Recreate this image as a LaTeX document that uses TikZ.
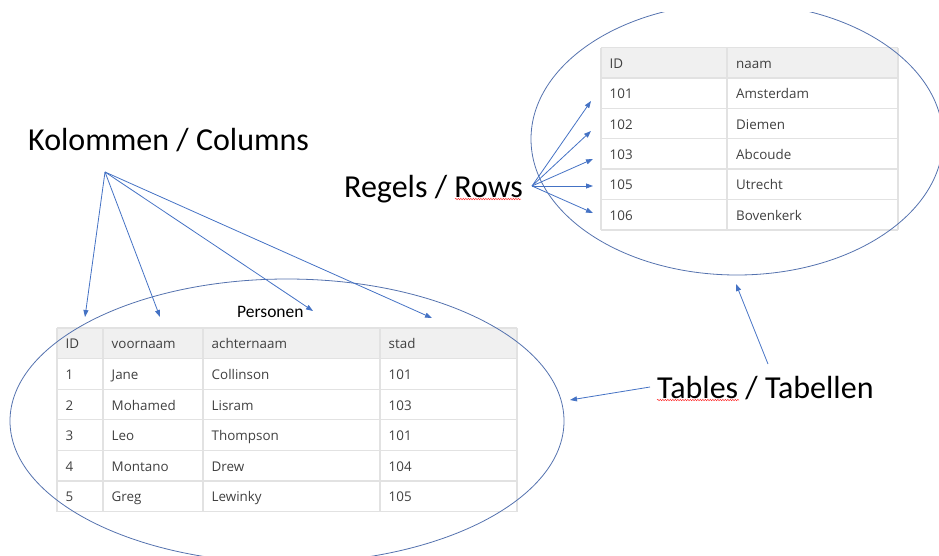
\documentclass[tikz,border=0pt]{standalone}
\usepackage{fontspec}
\setmainfont{Carlito}
\newfontfamily\tablefont{Open Sans}
\usetikzlibrary{arrows.meta, decorations.pathmorphing}
\definecolor{myblue}{RGB}{68,114,196}
\definecolor{ringblue}{RGB}{84,114,174}
\definecolor{gridgray}{RGB}{226,226,226}
\definecolor{hdrgray}{RGB}{240,240,240}
\definecolor{celltext}{RGB}{64,64,64}
\tikzset{
  biglabel/.style={font=\fontsize{32}{38}\selectfont, text=black, inner sep=0pt, anchor=base west},
  caption/.style={font=\fontsize{17.5}{21}\selectfont, text=black, inner sep=0pt, anchor=base west},
  cell/.style={font=\tablefont\fontsize{13.4}{16}\selectfont, text=celltext, inner sep=0pt, anchor=base west},
  gridline/.style={draw=gridgray, line width=1.3pt},
  ring/.style={draw=ringblue, line width=0.8pt},
  arrow/.style={-{Triangle[length=7pt,width=5pt]}, myblue, line width=0.8pt},
  squiggle/.style={red!80, line width=0.5pt, decorate,
    decoration={snake, amplitude=0.7pt, segment length=2.5pt}}
}

\begin{document}
\begin{tikzpicture}[x=1pt, y=-1pt]
  \useasboundingbox (0,0) rectangle (939,555);

  % Personen table
  \fill[hdrgray] (57,328) rectangle (517,358.6);
  \foreach \y in {328,358.6,389.2,419.8,450.4,481,511.6}
    \draw[gridline] (57,\y) -- (517,\y);
  \foreach \x in {57,103,203,380,517}
    \draw[gridline] (\x,328) -- (\x,511.6);
  \foreach \id/\voor/\achter/\stad [count=\r] in {ID/voornaam/achternaam/stad,
      1/Jane/Collinson/101, 2/Mohamed/Lisram/103, 3/Leo/Thompson/101,
      4/Montano/Drew/104, 5/Greg/Lewinky/105} {
    \pgfmathsetmacro\yb{328+(\r-1)*30.6+20.8}
    \node[cell] (p-\r-1) at (65.5,\yb) {\id};
    \node[cell] (p-\r-2) at (111.5,\yb) {\voor};
    \node[cell] (p-\r-3) at (211.5,\yb) {\achter};
    \node[cell] (p-\r-4) at (388.5,\yb) {\stad};
  }
  \node[caption] (personen) at (237,317) {Personen};

  % Steden table
  \fill[hdrgray] (601,47.5) rectangle (898,77.9);
  \foreach \y in {47.5,77.9,108.3,138.7,169.1,199.5,229.9}
    \draw[gridline] (601,\y) -- (898,\y);
  \foreach \x in {601,727,898}
    \draw[gridline] (\x,47.5) -- (\x,229.9);
  \foreach \id/\naam [count=\r] in {ID/naam, 101/Amsterdam, 102/Diemen,
      103/Abcoude, 105/Utrecht, 106/Bovenkerk} {
    \pgfmathsetmacro\yb{47.5+(\r-1)*30.4+20.7}
    \node[cell] (s-\r-1) at (609.5,\yb) {\id};
    \node[cell] (s-\r-2) at (736,\yb) {\naam};
  }

  % Ellipses round the tables
  \begin{scope}
    \clip (0,12) rectangle (939,555);
    \draw[ring] (287,421) ellipse [x radius=277, y radius=142];
    \draw[ring] (737,139) ellipse [x radius=206, y radius=136];
  \end{scope}

  % Labels
  \node[biglabel] (kolommen) at (28,150) {Kolommen / Columns};
  \node[biglabel] (regels) at (344,197) {Regels / Rows};
  \node[biglabel] (tables) at (657,398) {Tables / Tabellen};
  \draw[squiggle] (455,199) -- (521,199);
  \draw[squiggle] (657,400) -- (739,400);

  % Column arrows
  \coordinate (colsrc) at (105,172);
  \coordinate (c1) at (85,317);
  \coordinate (c2) at (160,317);
  \coordinate (c3) at (313,311);
  \coordinate (c4) at (432,318);
  \foreach \t in {c1,c2,c3,c4}
    \draw[arrow] (colsrc) -- (\t);

  % Row arrows
  \coordinate (rowsrc) at (532,186);
  \coordinate (r1) at (591,101);
  \coordinate (r2) at (591,131);
  \coordinate (r3) at (593,159);
  \coordinate (r4) at (593,186);
  \coordinate (r5) at (593,213);
  \foreach \t in {r1,r2,r3,r4,r5}
    \draw[arrow] (rowsrc) -- (\t);

  % Table arrows
  \coordinate (tabsrcA) at (650,387);
  \coordinate (tabsrcB) at (768,364);
  \coordinate (tabL) at (570,400);
  \coordinate (tabR) at (736,284);
  \draw[arrow] (tabsrcA) -- (tabL);
  \draw[arrow] (tabsrcB) -- (tabR);
\end{tikzpicture}
\end{document}
